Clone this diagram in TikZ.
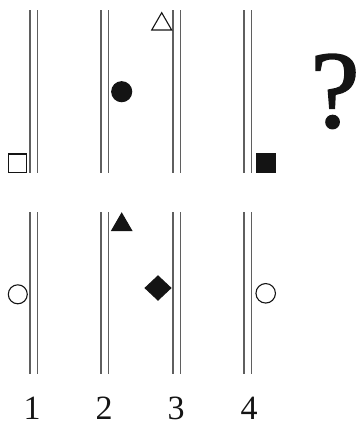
\documentclass[tikz,border=0pt]{standalone}
\usepackage{fontspec}
\setmainfont{Liberation Serif}
\newfontfamily\qfont[FakeBold=1.6]{Liberation Serif}
\usetikzlibrary{shapes.geometric}
\definecolor{rail}{RGB}{95,95,95}
\definecolor{ink}{RGB}{20,20,20}
\tikzset{
  railline/.style={draw=rail,line width=1.4pt},
  shp/.style={inner sep=0pt,outer sep=0pt,line width=1.1pt,draw=ink},
  openshp/.style={shp,fill=white},
  fillshp/.style={shp,fill=ink},
  sq/.style={rectangle,minimum size=#1},
  circ/.style={circle,minimum size=#1},
  tri/.style={regular polygon,regular polygon sides=3,minimum size=23},
  dia/.style={diamond,minimum width=25.6,minimum height=24},
  numlabel/.style={font=\fontsize{34}{34}\selectfont,anchor=base,inner sep=0pt,text=ink,text depth=0pt},
}
\begin{document}
\begin{tikzpicture}[x=1pt,y=-1pt]
\useasboundingbox (0,0) rectangle (358,421);
% rails
\foreach \n/\x in {1/30,2/101,3/173,4/244}{
  \coordinate (ta\n) at (\x,10); \coordinate (tb\n) at (\x,173);
  \coordinate (tc\n) at (\x+7.5,10); \coordinate (td\n) at (\x+7.5,173);
  \coordinate (ba\n) at (\x,212); \coordinate (bb\n) at (\x,374);
  \coordinate (bc\n) at (\x+7.5,212); \coordinate (bd\n) at (\x+7.5,374);
  \draw[railline] (ta\n) -- (tb\n);
  \draw[railline] (tc\n) -- (td\n);
  \draw[railline] (ba\n) -- (bb\n);
  \draw[railline] (bc\n) -- (bd\n);
}
% top row shapes
\node[openshp,sq=18.4] (s1) at (17.5,163.2) {};
\node[fillshp,circ=20] (c2) at (121.7,91.7) {};
\node[openshp,tri] (t3) at (161.7,24.2) {};
\node[fillshp,sq=19] (s4) at (265.7,162.8) {};
\node[anchor=base,inner sep=0pt,text=ink,text depth=0pt,font=\qfont\fontsize{110}{110}\selectfont] (q) at (335,127) {?};
% bottom row shapes
\node[openshp,circ=19] (c1) at (17.8,294.3) {};
\node[fillshp,tri] (t2) at (121.7,224.8) {};
\node[fillshp,dia] (d3) at (158,288) {};
\node[openshp,circ=19.5] (c4) at (265.7,293.3) {};
% labels
\node[numlabel] (n1) at (32,419) {1};
\node[numlabel] (n2) at (104,419) {2};
\node[numlabel] (n3) at (176,419) {3};
\node[numlabel] (n4) at (249,419) {4};
\end{tikzpicture}
\end{document}
